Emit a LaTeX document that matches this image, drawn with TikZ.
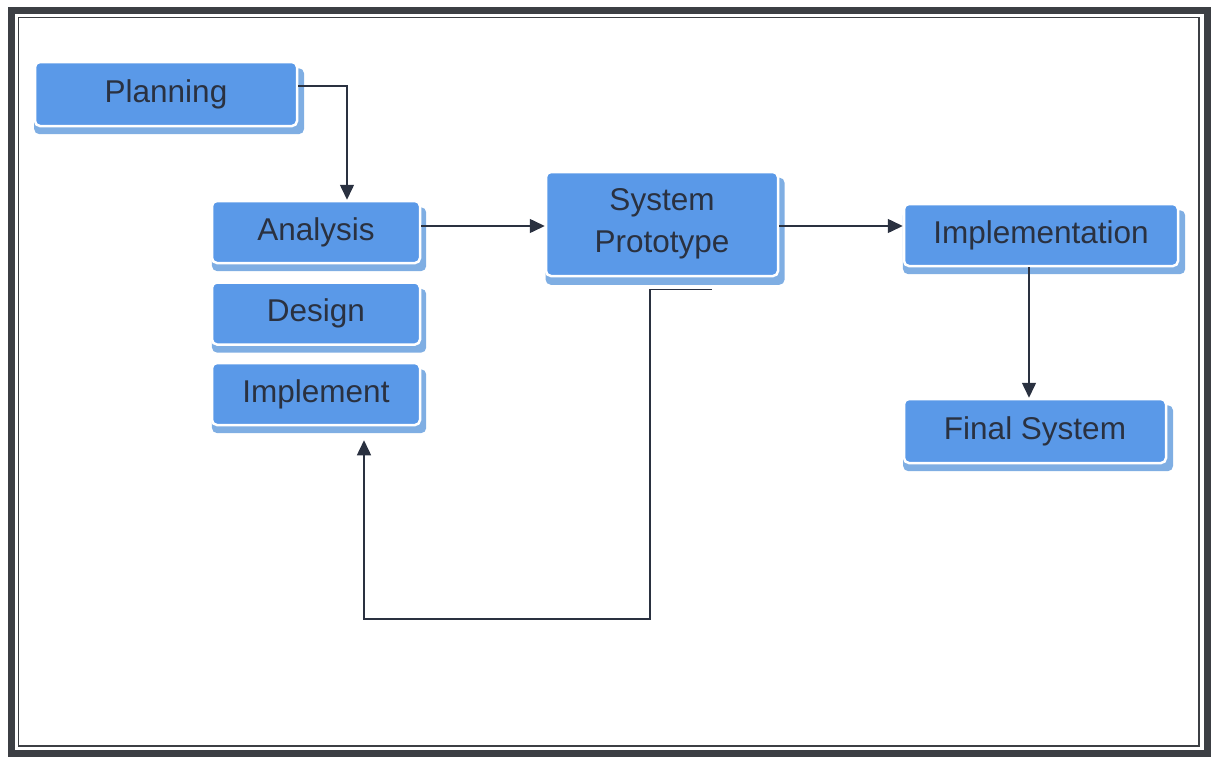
\documentclass[tikz,border=0pt]{standalone}
\usepackage{fontspec}
\setmainfont{Liberation Sans}
\usetikzlibrary{positioning, shadows, arrows.meta}
\definecolor{boxblue}{HTML}{5A99E8}
\definecolor{rimblue}{HTML}{7FAEE3}
\definecolor{inkgray}{HTML}{2A3140}
\definecolor{framegray}{HTML}{3C3F44}

\begin{document}
\begin{tikzpicture}[x=1pt, y=-1pt, node distance={17pt},
    main/.style = {draw=white, line width=2.5pt, fill=boxblue, rounded corners=5pt, text=inkgray,
                   font=\fontsize{31.5}{42}\selectfont, align=center,
                   general shadow={fill=rimblue, shadow xshift=3pt, shadow yshift=-7pt, shadow scale=1.03}},
    conn/.style = {draw=inkgray, line width=1.5pt, -{Triangle[length=15pt, width=14pt]}}]
    \useasboundingbox (0,0) rectangle (1216,758);

    % frame
    \draw[framegray, line width=7pt] (11,10) rectangle (1207,753);
    \draw[framegray, line width=1.8pt] (18.5,17.5) rectangle (1199,746);

    \node[main, minimum width=262pt, minimum height=64pt] (plan) at (166,94) {Planning};
    \node[main, minimum width=208pt, minimum height=62pt] (ana) at (316,232) {Analysis};
    \node[main, minimum width=208pt, minimum height=62pt] (des) [below=of ana] {Design};
    \node[main, minimum width=208pt, minimum height=62pt] (imp) [below=16pt of des] {Implement};
    \node[main, minimum width=232pt, minimum height=104pt] (proto) at (662,224) {System\\Prototype};
    \node[main, minimum width=274pt, minimum height=62pt] (impl) at (1041,235) {Implementation};
    \node[main, minimum width=262pt, minimum height=64pt] (fin) at (1035,431) {Final System};

    \coordinate (fb) at (364,619);

    \draw[conn] ([yshift=8pt]plan.east) -| ([xshift=31pt]ana.north);
    \draw[conn] ([yshift=6pt]ana.east) -- ([yshift=6pt]ana.east -| proto.west);
    \draw[conn] ([yshift=-2pt]proto.east) -- ([yshift=-2pt]proto.east -| impl.west);
    \draw[conn] ([xshift=-12pt]impl.south) -- ([xshift=-12pt]impl.south |- fin.north);

    % back to the build loop
    \draw[conn] ([xshift=50pt, yshift=-12pt]proto.south) -- ([xshift=-12pt, yshift=-12pt]proto.south)
        |- (fb) -- ([xshift=48pt, yshift=-14pt]imp.south);
\end{tikzpicture}
\end{document}
